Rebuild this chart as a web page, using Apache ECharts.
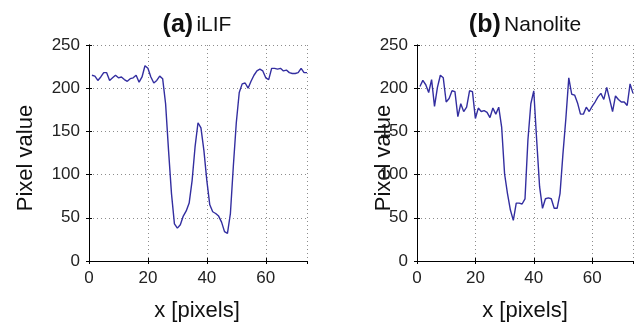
<!DOCTYPE html>
<html>
<head>
<meta charset="utf-8">
<script src="https://cdn.jsdelivr.net/npm/echarts@6/dist/echarts.min.js"></script>
<style>
  html, body { margin: 0; padding: 0; background: #fff; }
  #chart { width: 636px; height: 326px; }
</style>
</head>
<body>
<div id="chart"></div>
<script>
// pixel profiles, one value per pixel position (x = 1..74)
const ilifValues = [
  215, 214, 209, 213, 218, 218, 209, 212, 215, 212,
  213, 210, 208, 211, 212, 215, 207, 213, 226, 223,
  213, 206, 209, 214, 211, 182, 128, 78, 43, 38,
  42, 52, 58, 67, 93, 132, 160, 154, 128, 93,
  65, 57, 55, 52, 45, 34, 32, 55, 110, 160,
  195, 205, 206, 200, 208, 215, 220, 222, 220, 212,
  210, 223, 223, 222, 223, 220, 221, 218, 217, 217,
  218, 223, 218, 218
];
const nanoliteValues = [
  202, 209, 204, 195, 210, 179, 201, 215, 212, 184,
  188, 197, 196, 167, 182, 173, 178, 197, 196, 165,
  177, 173, 174, 172, 166, 177, 170, 178, 155, 101,
  78, 59, 47, 67, 67, 66, 72, 140, 182, 197,
  140, 86, 61, 72, 73, 72, 61, 61, 78, 124,
  165, 212, 193, 192, 183, 170, 170, 178, 173, 179,
  184, 190, 194, 187, 201, 187, 173, 191, 187, 184,
  184, 180, 205, 194
];

const toPairs = arr => arr.map((v, i) => [i + 1, v]);

const FONT = 'Liberation Sans, Arial, Helvetica, sans-serif';
const lineColor = '#332ea0';
const grids = [
  { left: 89, top: 45, width: 218, height: 216 },
  { left: 417, top: 45, width: 216, height: 216 }
];
const gridDots = { show: true, lineStyle: { color: '#8c8c8c', type: [1, 3], width: 1 } };

function xAxes(i) {
  const base = {
    type: 'value', gridIndex: i, min: 0, max: 74, interval: 20,
    axisLine: { show: true, lineStyle: { color: '#000', width: 1 } },
    axisTick: { show: true, inside: true, length: 3, lineStyle: { color: '#000' } }
  };
  return [
    Object.assign({}, base, {
      position: 'bottom',
      axisLabel: { color: '#222', fontSize: 17, fontFamily: FONT, margin: 9,
        showMaxLabel: false },
      splitLine: gridDots
    }),
    Object.assign({}, base, {
      position: 'top',
      axisLabel: { show: false },
      splitLine: { show: false }
    })
  ];
}
function yAxes(i) {
  const base = {
    type: 'value', gridIndex: i, min: 0, max: 250, interval: 50,
    axisLine: { show: true, lineStyle: { color: '#000', width: 1 } },
    axisTick: { show: true, inside: true, length: 3, lineStyle: { color: '#000' } }
  };
  return [
    Object.assign({}, base, {
      position: 'left',
      axisLabel: { color: '#222', fontSize: 17, fontFamily: FONT, margin: 9 },
      splitLine: gridDots
    }),
    Object.assign({}, base, {
      position: 'right',
      axisLabel: { show: false },
      splitLine: { show: false }
    })
  ];
}

function titleText(x, tag, name) {
  return {
    type: 'text', x: x, y: 25,
    style: {
      text: '{b|' + tag + '} {n|' + name + '}',
      align: 'center', verticalAlign: 'middle',
      rich: {
        b: { fontSize: 25, fontWeight: 'bold', fontFamily: FONT, fill: '#111' },
        n: { fontSize: 21, fontFamily: FONT, fill: '#111' }
      }
    }
  };
}
function plainText(x, y, text, rot) {
  return {
    type: 'text', x: x, y: y, rotation: rot || 0,
    style: { text: text, fontSize: 22, fontFamily: FONT, fill: '#111',
      align: 'center', verticalAlign: 'middle' }
  };
}

const chart = echarts.init(document.getElementById('chart'));
chart.setOption({
  animation: false,
  grid: grids,
  xAxis: xAxes(0).concat(xAxes(1)),
  yAxis: yAxes(0).concat(yAxes(1)),
  series: [
    { type: 'line', xAxisIndex: 0, yAxisIndex: 0, data: toPairs(ilifValues),
      showSymbol: false, lineStyle: { color: lineColor, width: 1.4 } },
    { type: 'line', xAxisIndex: 2, yAxisIndex: 2, data: toPairs(nanoliteValues),
      showSymbol: false, lineStyle: { color: lineColor, width: 1.4 } }
  ],
  graphic: [
    titleText(197, '(a)', 'iLIF'),
    titleText(525, '(b)', 'Nanolite'),
    plainText(197, 311, 'x [pixels]'),
    plainText(525, 311, 'x [pixels]'),
    plainText(26, 158, 'Pixel value', Math.PI / 2),
    plainText(384, 158, 'Pixel value', Math.PI / 2)
  ]
});
</script>
</body>
</html>
